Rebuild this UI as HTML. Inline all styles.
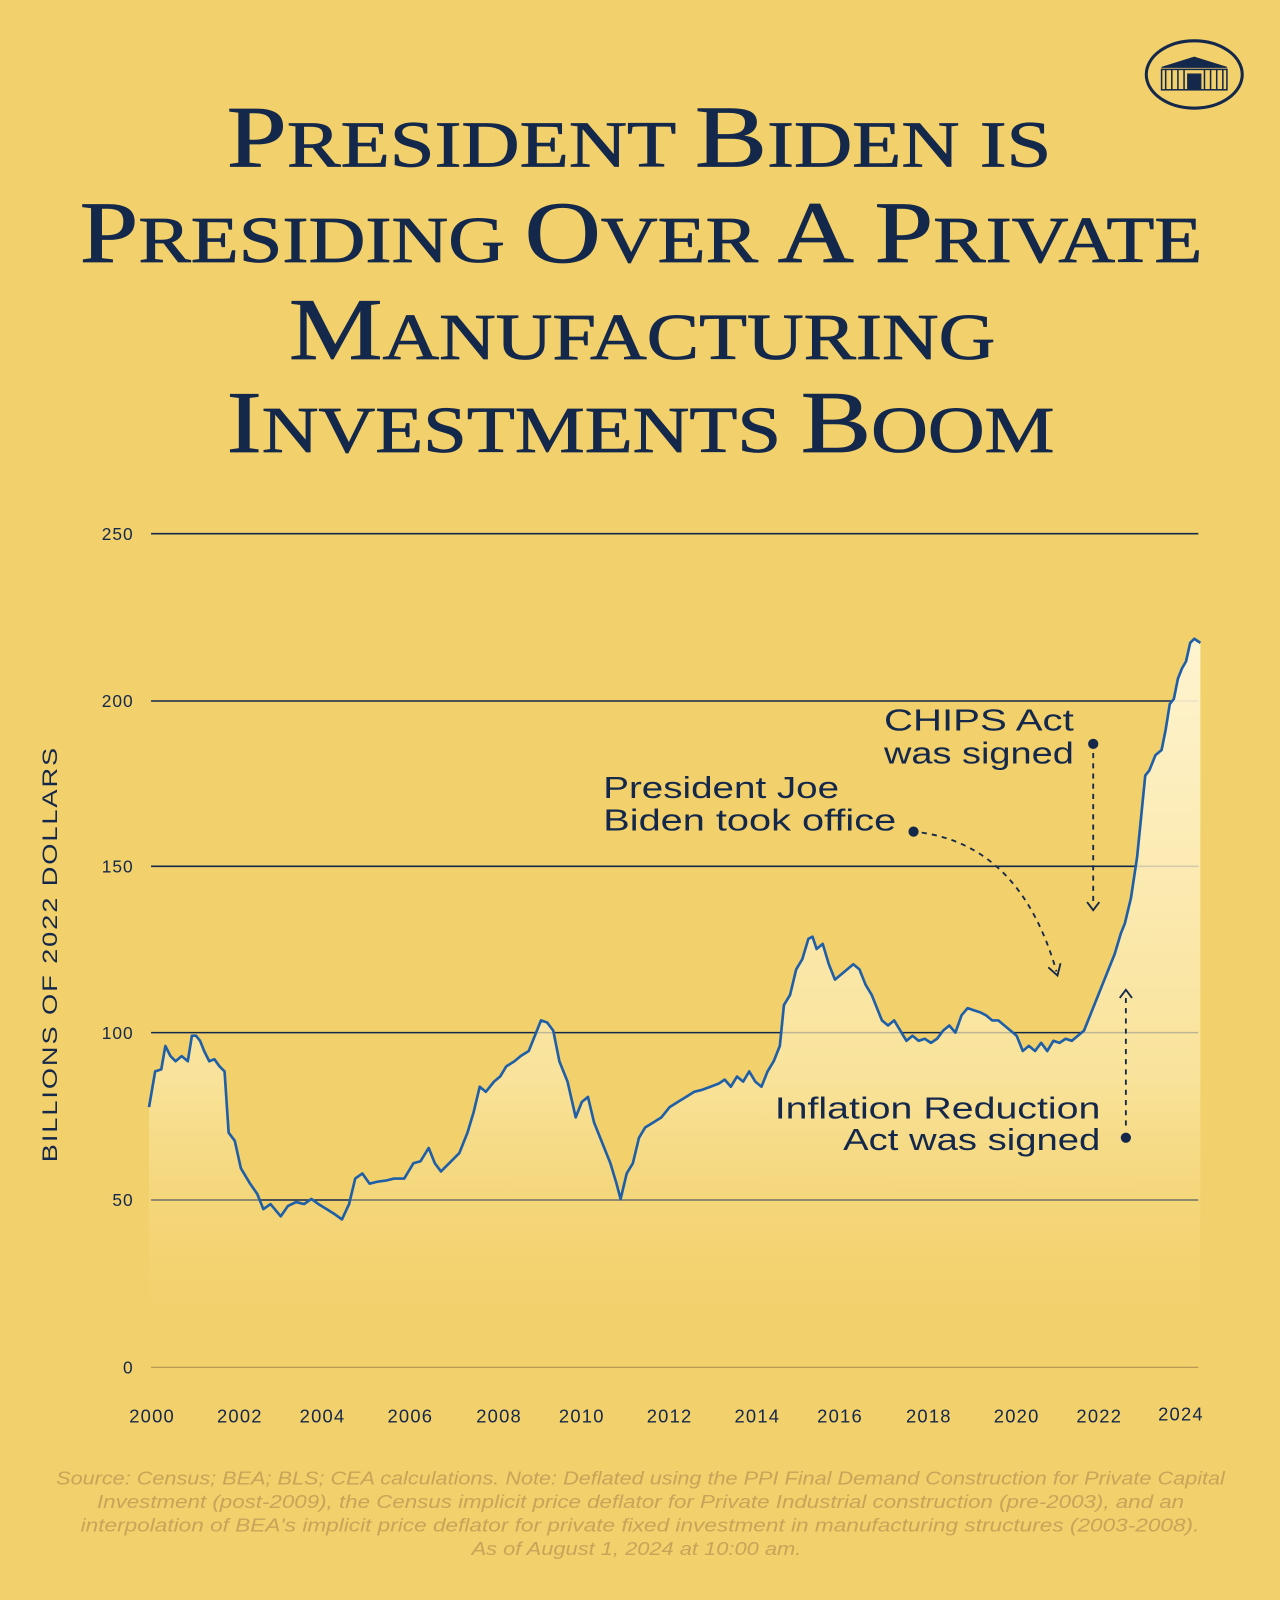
<!DOCTYPE html>
<html><head><meta charset="utf-8"><style>
html,body{margin:0;padding:0;background:#F2D06B;}
svg{display:block;}
</style></head><body>
<svg width="1280" height="1600" viewBox="0 0 1254 1568" preserveAspectRatio="none" xmlns="http://www.w3.org/2000/svg">
<defs>
<linearGradient id="g" x1="0" y1="0" x2="0" y2="1">
<stop offset="0" stop-color="#fff6d6" stop-opacity="0.95"/>
<stop offset="0.6" stop-color="#fcebb0" stop-opacity="0.7"/>
<stop offset="1" stop-color="#F2D06B" stop-opacity="0"/>
</linearGradient>
</defs>
<rect width="1254" height="1568" fill="#F2D06B"/>
<g stroke="#14284B" fill="none">
<ellipse cx="1170" cy="73" rx="47" ry="33" stroke-width="3"/>
<path d="M1138 66 L1170 56 L1202 66 Z" fill="#14284B"/>
<rect x="1138" y="68" width="64" height="20" stroke-width="1.5"/>
<path d="M1142 68v20M1148 68v20M1154 68v20M1160 68v20M1180 68v20M1186 68v20M1192 68v20M1198 68v20" stroke-width="1.5"/>
<rect x="1163" y="72" width="14" height="16" fill="#14284B" stroke="none"/>
</g>
<g font-family="'Liberation Serif',serif" fill="#14284B" stroke="#14284B" stroke-width="0.8" font-size="64">
<text x="222" y="163" textLength="808" lengthAdjust="spacingAndGlyphs"><tspan font-size="86">P</tspan>RESIDENT <tspan font-size="86">B</tspan>IDEN IS</text>
<text x="78" y="257" textLength="1100" lengthAdjust="spacingAndGlyphs"><tspan font-size="86">P</tspan>RESIDING <tspan font-size="86">O</tspan>VER <tspan font-size="86">A P</tspan>RIVATE</text>
<text x="283" y="352" textLength="692" lengthAdjust="spacingAndGlyphs"><tspan font-size="86">M</tspan>ANUFACTURING</text>
<text x="222" y="443" textLength="811" lengthAdjust="spacingAndGlyphs"><tspan font-size="86">I</tspan>NVESTMENTS <tspan font-size="86">B</tspan>OOM</text>
</g>
<g stroke="#14284B" stroke-width="1.5">
<line x1="148" y1="523" x2="1174" y2="523"/>
<line x1="148" y1="687" x2="1174" y2="687"/>
<line x1="148" y1="849" x2="1174" y2="849"/>
<line x1="148" y1="1012" x2="1174" y2="1012"/>
<line x1="148" y1="1176" x2="1174" y2="1176"/>
</g>
<line x1="148" y1="1340" x2="1174" y2="1340" stroke="#b89a55" stroke-width="1.2"/>
<g font-family="'Liberation Sans',sans-serif" font-size="17" fill="#14284B" text-anchor="end" letter-spacing="1">
<text x="131" y="529">250</text><text x="131" y="693">200</text><text x="131" y="855">150</text>
<text x="131" y="1018">100</text><text x="131" y="1182">50</text><text x="131" y="1346">0</text>
</g>
<g font-family="'Liberation Sans',sans-serif" font-size="18" fill="#14284B" text-anchor="middle" letter-spacing="1.2">
<text x="149" y="1394">2000</text><text x="235" y="1394">2002</text><text x="316" y="1394">2004</text>
<text x="402" y="1394">2006</text><text x="489" y="1394">2008</text><text x="570" y="1394">2010</text>
<text x="656" y="1394">2012</text><text x="742" y="1394">2014</text><text x="823" y="1394">2016</text>
<text x="910" y="1394">2018</text><text x="996" y="1394">2020</text><text x="1077" y="1394">2022</text>
<text x="1157" y="1392">2024</text>
</g>
<text transform="translate(56,935) rotate(-90)" font-family="'Liberation Sans',sans-serif" font-size="21" fill="#14284B" text-anchor="middle" letter-spacing="1.5" textLength="408" lengthAdjust="spacingAndGlyphs">BILLIONS OF 2022 DOLLARS</text>
<path fill="url(#g)" d="M146 1340 L146,1085 152,1050 158,1048 162,1025 167,1035 172,1040 178,1035 184,1040 188,1015 192,1015 196,1020 200,1030 205,1040 210,1038 215,1045 220,1050 224,1110 230,1118 236,1145 245,1160 252,1170 258,1185 265,1180 275,1192 282,1182 290,1178 298,1180 305,1175 312,1180 320,1185 328,1190 335,1195 342,1180 348,1155 355,1150 362,1160 370,1158 378,1157 386,1155 396,1155 405,1140 412,1138 420,1125 426,1140 432,1148 440,1140 450,1130 458,1110 464,1090 470,1065 476,1070 484,1060 490,1055 496,1045 504,1040 510,1035 518,1030 524,1015 530,1000 536,1002 542,1010 548,1040 556,1060 564,1095 570,1080 576,1075 582,1100 590,1120 598,1140 604,1160 608,1175 614,1150 620,1140 626,1115 632,1105 640,1100 648,1095 656,1085 664,1080 672,1075 680,1070 688,1068 696,1065 704,1062 710,1058 716,1065 722,1055 728,1060 734,1050 740,1060 746,1065 752,1050 758,1040 764,1025 768,985 774,975 780,950 786,940 792,920 796,918 800,930 806,925 812,945 818,960 824,955 830,950 836,945 842,950 848,965 854,975 858,985 864,1000 870,1005 876,1000 882,1010 888,1020 894,1015 900,1020 906,1018 912,1022 918,1018 924,1010 930,1005 936,1012 942,995 948,988 954,990 960,992 966,995 972,1000 978,1000 984,1005 990,1010 996,1015 1002,1030 1008,1025 1014,1030 1020,1022 1026,1030 1032,1020 1038,1022 1044,1018 1050,1020 1056,1015 1062,1010 1068,995 1074,980 1080,965 1086,950 1092,935 1098,915 1102,905 1108,880 1114,840 1118,800 1122,760 1126,755 1132,740 1138,735 1142,715 1146,690 1150,685 1154,665 1158,655 1162,648 1166,630 1170,626 1176,630 L1176 1340 Z"/>
<polyline fill="none" stroke="#1f5fa8" stroke-width="2.6" stroke-linejoin="round" points="146,1085 152,1050 158,1048 162,1025 167,1035 172,1040 178,1035 184,1040 188,1015 192,1015 196,1020 200,1030 205,1040 210,1038 215,1045 220,1050 224,1110 230,1118 236,1145 245,1160 252,1170 258,1185 265,1180 275,1192 282,1182 290,1178 298,1180 305,1175 312,1180 320,1185 328,1190 335,1195 342,1180 348,1155 355,1150 362,1160 370,1158 378,1157 386,1155 396,1155 405,1140 412,1138 420,1125 426,1140 432,1148 440,1140 450,1130 458,1110 464,1090 470,1065 476,1070 484,1060 490,1055 496,1045 504,1040 510,1035 518,1030 524,1015 530,1000 536,1002 542,1010 548,1040 556,1060 564,1095 570,1080 576,1075 582,1100 590,1120 598,1140 604,1160 608,1175 614,1150 620,1140 626,1115 632,1105 640,1100 648,1095 656,1085 664,1080 672,1075 680,1070 688,1068 696,1065 704,1062 710,1058 716,1065 722,1055 728,1060 734,1050 740,1060 746,1065 752,1050 758,1040 764,1025 768,985 774,975 780,950 786,940 792,920 796,918 800,930 806,925 812,945 818,960 824,955 830,950 836,945 842,950 848,965 854,975 858,985 864,1000 870,1005 876,1000 882,1010 888,1020 894,1015 900,1020 906,1018 912,1022 918,1018 924,1010 930,1005 936,1012 942,995 948,988 954,990 960,992 966,995 972,1000 978,1000 984,1005 990,1010 996,1015 1002,1030 1008,1025 1014,1030 1020,1022 1026,1030 1032,1020 1038,1022 1044,1018 1050,1020 1056,1015 1062,1010 1068,995 1074,980 1080,965 1086,950 1092,935 1098,915 1102,905 1108,880 1114,840 1118,800 1122,760 1126,755 1132,740 1138,735 1142,715 1146,690 1150,685 1154,665 1158,655 1162,648 1166,630 1170,626 1176,630"/>
<g font-family="'Liberation Sans',sans-serif" font-size="30" fill="#14284B">
<text x="866" y="716" textLength="186" lengthAdjust="spacingAndGlyphs">CHIPS Act</text>
<text x="866" y="748" textLength="186" lengthAdjust="spacingAndGlyphs">was signed</text>
<text x="591" y="782" textLength="231" lengthAdjust="spacingAndGlyphs">President Joe</text>
<text x="591" y="814" textLength="287" lengthAdjust="spacingAndGlyphs">Biden took office</text>
<text x="759" y="1096" textLength="319" lengthAdjust="spacingAndGlyphs">Inflation Reduction</text>
<text x="826" y="1127" textLength="252" lengthAdjust="spacingAndGlyphs">Act was signed</text>
</g>
<g fill="#14284B"><circle cx="1071" cy="729" r="5"/><circle cx="895" cy="815" r="5"/><circle cx="1103" cy="1115" r="5"/></g>
<g stroke="#14284B" stroke-width="1.8" fill="none" stroke-dasharray="5,5">
<line x1="1071" y1="738" x2="1071" y2="888"/>
<path d="M903 816 Q1000 830 1035 952"/>
<line x1="1103" y1="1103" x2="1103" y2="978"/>
</g>
<g stroke="#14284B" stroke-width="1.8" fill="none">
<path d="M1065 884 L1071 892 L1077 884"/>
<path d="M1027 948 L1036 956 L1039 944"/>
<path d="M1097 978 L1103 970 L1109 978"/>
</g>
<g font-family="'Liberation Sans',sans-serif" font-style="italic" font-size="18" fill="#c6a55a">
<text x="55" y="1455" textLength="1145" lengthAdjust="spacingAndGlyphs">Source: Census; BEA; BLS; CEA calculations. Note: Deflated using the PPI Final Demand Construction for Private Capital</text>
<text x="95" y="1478" textLength="1065" lengthAdjust="spacingAndGlyphs">Investment (post-2009), the Census implicit price deflator for Private Industrial construction (pre-2003), and an</text>
<text x="79" y="1501" textLength="1096" lengthAdjust="spacingAndGlyphs">interpolation of BEA's implicit price deflator for private fixed investment in manufacturing structures (2003-2008).</text>
<text x="462" y="1524" textLength="323" lengthAdjust="spacingAndGlyphs">As of August 1, 2024 at 10:00 am.</text>
</g>
</svg>
</body></html>
